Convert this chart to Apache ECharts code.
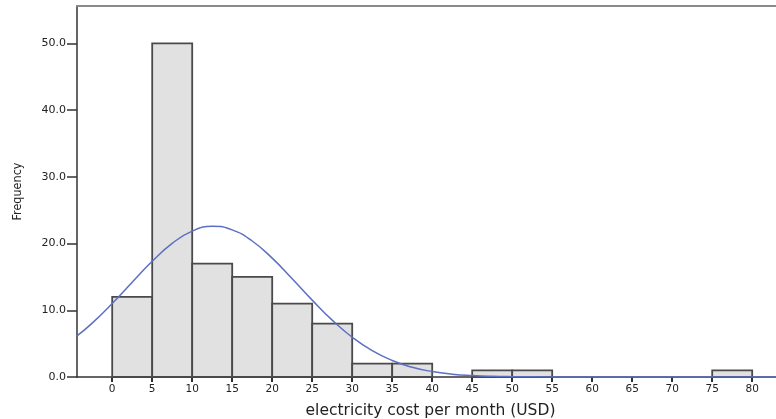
<!DOCTYPE html>
<html><head><meta charset="utf-8">
<script src="https://cdn.jsdelivr.net/npm/echarts@6/dist/echarts.min.js"></script>
<style>html,body{margin:0;padding:0;background:#fff}#c{width:776px;height:419px}</style>
</head><body><div id="c"></div>
<script>
// Histogram bins (start of each 5-USD bin) and frequencies
var binStarts = [0, 5, 10, 15, 20, 25, 30, 35, 45, 50, 75];
var binWidth = 5;
var counts = [12, 50, 17, 15, 11, 8, 2, 2, 1, 1, 1];
// Normal curve points
var curveX = [-4.4, -2.5, 0, 2.5, 5, 7.5, 10, 12.5, 15, 17.5, 20, 22.5, 25, 27.5, 30, 32.5, 35, 37.5, 40, 42.5, 45, 47.5, 50, 55, 60, 70, 83];
var curveY = [6.15, 8.08, 11.02, 14.21, 17.34, 20.02, 21.86, 22.58, 22.05, 20.38, 17.81, 14.73, 11.52, 8.52, 5.96, 3.94, 2.47, 1.46, 0.82, 0.43, 0.22, 0.10, 0.05, 0.01, 0, 0, 0];
var xTicks = [0, 5, 10, 15, 20, 25, 30, 35, 40, 45, 50, 55, 60, 65, 70, 75, 80];
var yTicks = [0, 10, 20, 30, 40, 50];

var barData = binStarts.map(function (s, i) { return [s, s + binWidth, counts[i]]; });
var lineData = curveX.map(function (x, i) { return [x, curveY[i]]; });

var XMIN = -4.4, XMAX = 82.975;
var chart = echarts.init(document.getElementById('c'), null, {renderer: 'canvas'});
chart.setOption({
  animation: false,
  backgroundColor: '#ffffff',
  grid: {left: 77, right: 0, top: 6, bottom: 42, outerBoundsMode: 'none', containLabel: false},
  xAxis: [{
    type: 'value', min: XMIN, max: XMAX,
    name: 'electricity cost per month (USD)', nameLocation: 'middle', nameGap: 26,
    nameTextStyle: {fontFamily: 'DejaVu Sans', fontSize: 15.5, color: '#222', padding: [0, 0, 0, 8]},
    axisLine: {show: true, onZero: false, lineStyle: {color: '#333', width: 1.5}},
    axisTick: {show: true, customValues: xTicks, length: 5, lineStyle: {color: '#333', width: 2}},
    axisLabel: {customValues: xTicks, fontFamily: 'DejaVu Sans', fontSize: 10.5, color: '#222', margin: 7},
    splitLine: {show: false}
  }, {
    type: 'value', min: XMIN, max: XMAX, position: 'top',
    axisLine: {show: true, onZero: false, lineStyle: {color: '#8a8a8a', width: 2}},
    axisTick: {show: false}, axisLabel: {show: false}, splitLine: {show: false}
  }],
  yAxis: {
    type: 'value', min: 0, max: 55.6,
    name: 'Frequency', nameLocation: 'middle', nameGap: 53, nameRotate: 90,
    nameTextStyle: {fontFamily: "'DejaVu Sans Condensed', 'Liberation Sans', sans-serif", fontSize: 12.5, color: '#222'},
    axisLine: {show: true, onZero: false, lineStyle: {color: '#666', width: 2}},
    axisTick: {show: true, customValues: yTicks, length: 10, lineStyle: {color: '#333', width: 1.5}},
    axisLabel: {customValues: yTicks, fontFamily: 'DejaVu Sans', fontSize: 11, color: '#222', margin: 11,
      formatter: function (v) { return v.toFixed(1); }},
    splitLine: {show: false}
  },
  series: [
    {
      type: 'custom',
      data: barData,
      encode: {x: [0, 1], y: 2},
      z: 2,
      renderItem: function (params, api) {
        var p0 = api.coord([api.value(0), 0]);
        var p1 = api.coord([api.value(1), api.value(2)]);
        return {
          type: 'rect',
          shape: {x: p0[0], y: p1[1], width: p1[0] - p0[0], height: p0[1] - p1[1]},
          style: {fill: '#e1e1e1', stroke: '#4a4a4a', lineWidth: 1.8}
        };
      }
    },
    {
      type: 'line',
      data: lineData,
      smooth: true,
      showSymbol: false,
      z: 5,
      clip: true,
      lineStyle: {color: '#5b6fc3', width: 1.5}
    }
  ]
});
</script>
</body></html>
